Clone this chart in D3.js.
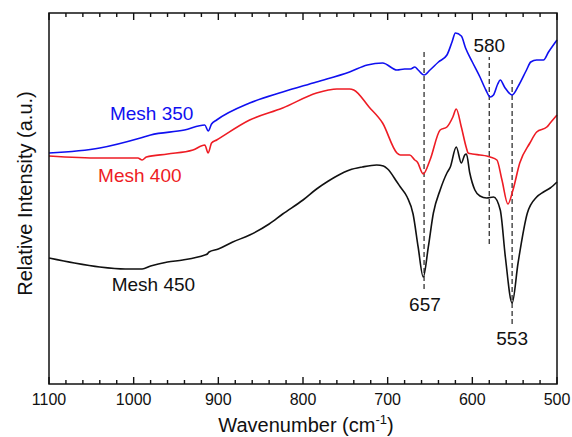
<!DOCTYPE html>
<html>
<head>
<meta charset="utf-8">
<script src="https://cdn.jsdelivr.net/npm/d3@7.9.0/dist/d3.min.js"></script>
<style>
  html, body { margin: 0; padding: 0; background: #fff; }
  svg { display: block; font-family: Arial, "Liberation Sans", sans-serif; }
</style>
</head>
<body>
<div id="chart"></div>
<script>
// spectra: [wavenumber (cm-1), relative intensity (a.u.)]
const mesh350 = [
  [1100, 231], [1040, 236], [992, 246], [980, 249], [940, 254], [916, 259], [912, 253],
  [908, 260], [902, 264], [863, 281], [824, 292], [784, 302], [745, 312], [724, 319],
  [706, 321], [689, 314], [680, 315], [673, 315], [668, 317], [664, 314], [657, 309],
  [650, 314], [640, 322], [630, 329], [624, 342], [620, 351], [613, 348], [608, 336],
  [600, 322], [591, 307], [584, 294], [579, 287], [575, 289], [570, 300], [567, 304],
  [562, 297], [553, 289], [545, 299], [536, 314], [531, 322], [524, 324], [516, 324],
  [510, 332], [500, 344]
];
const mesh400 = [
  [1100, 228], [1040, 226], [995, 226], [990, 224], [985, 227], [960, 230], [930, 234],
  [916, 239], [912, 231], [908, 241], [902, 244], [863, 264], [824, 276], [784, 291],
  [770, 294], [760, 295], [745, 295], [740, 294], [722, 277], [706, 261], [689, 231],
  [685, 229], [674, 229], [668, 224], [665, 222], [658, 210], [650, 224], [638, 254],
  [630, 257], [623, 267], [619, 275], [613, 257], [607, 236], [605, 231], [600, 230],
  [591, 229], [583, 228], [579, 227], [571, 224], [565, 204], [558, 180], [552, 194],
  [544, 221], [532, 241], [524, 252], [512, 257], [508, 261], [500, 269]
];
const mesh450 = [
  [1100, 126], [1070, 121], [1040, 117], [1010, 115], [990, 115], [980, 118], [960, 122],
  [942, 124], [916, 129], [913, 130], [911, 132], [900, 135], [883, 142], [863, 149],
  [840, 160], [824, 170], [800, 184], [784, 195], [770, 203], [760, 208], [745, 214],
  [730, 217], [713, 219], [705, 218], [700, 215], [689, 202], [685, 197], [677, 187],
  [670, 170], [664, 137], [658, 107], [652, 137], [646, 171], [638, 194], [630, 211],
  [626, 217], [619, 237], [613, 221], [609, 229], [607, 230], [603, 211], [597, 194],
  [591, 188], [583, 186], [575, 187], [567, 174], [561, 127], [553, 81], [546, 121],
  [535, 171], [524, 187], [516, 192], [508, 196], [500, 202]
];

const seriesNames = ["Mesh 350", "Mesh 400", "Mesh 450"];
const seriesColors = ["#1010f0", "#ee1c24", "#111111"];
// label anchors: [wavenumber, intensity]
const seriesLabelPos = [[1028, 264], [1042, 202], [1026, 93]];

// marked bands: wavenumber, dashed line extent, label position
const peaks = [657, 580, 553];
const peakLineExtent = [[95, 332], [140, 327], [60, 304]];
const peakLabelPos = [[656, 73], [580, 332], [553, 39]];

const xDomain = [1100, 500];
const yDomain = [0, 371];
const majorTicks = [1100, 1000, 900, 800, 700, 600, 500];
const allTicks = d3.range(500, 1101, 20);

const width = 572;
const height = 437;
const margin = { top: 13, right: 15, bottom: 53, left: 49 };

const usableArea = {
  top: margin.top,
  right: width - margin.right,
  bottom: height - margin.bottom,
  left: margin.left,
};

const svg = d3.select("#chart")
  .append("svg")
  .attr("width", width)
  .attr("height", height);

const xScale = d3.scaleLinear()
  .domain(xDomain)
  .range([usableArea.left, usableArea.right]);

const yScale = d3.scaleLinear()
  .domain(yDomain)
  .range([usableArea.bottom, usableArea.top]);

// dashed band markers
peaks.forEach((p, i) => {
  svg.append("line")
    .attr("x1", xScale(p)).attr("x2", xScale(p))
    .attr("y1", yScale(peakLineExtent[i][0]))
    .attr("y2", yScale(peakLineExtent[i][1]))
    .attr("stroke", "#333")
    .attr("stroke-width", 1.3)
    .attr("stroke-dasharray", "5,3");
  svg.append("text")
    .attr("x", xScale(peakLabelPos[i][0]))
    .attr("y", yScale(peakLabelPos[i][1]))
    .attr("text-anchor", "middle")
    .attr("font-size", 19)
    .attr("fill", "#111")
    .text(p);
});

// spectra
const line = d3.line()
  .x(d => xScale(d[0]))
  .y(d => yScale(d[1]))
  .curve(d3.curveMonotoneX);

[mesh350, mesh400, mesh450].forEach((data, i) => {
  svg.append("path")
    .datum(data)
    .attr("fill", "none")
    .attr("stroke", seriesColors[i])
    .attr("stroke-width", 1.6)
    .attr("stroke-linejoin", "round")
    .attr("d", line);

  svg.append("text")
    .attr("x", xScale(seriesLabelPos[i][0]))
    .attr("y", yScale(seriesLabelPos[i][1]))
    .attr("font-size", 19)
    .attr("fill", seriesColors[i])
    .text(seriesNames[i]);
});

// frame
svg.append("rect")
  .attr("x", usableArea.left)
  .attr("y", usableArea.top)
  .attr("width", usableArea.right - usableArea.left)
  .attr("height", usableArea.bottom - usableArea.top)
  .attr("fill", "none")
  .attr("stroke", "#111")
  .attr("stroke-width", 1.5);

// inward ticks on top and bottom edges (major 7px, minor 4px)
allTicks.forEach(v => {
  const len = v % 100 === 0 ? 7 : 4;
  svg.append("line")
    .attr("x1", xScale(v)).attr("x2", xScale(v))
    .attr("y1", usableArea.bottom).attr("y2", usableArea.bottom - len)
    .attr("stroke", "#111").attr("stroke-width", 1.4);
  svg.append("line")
    .attr("x1", xScale(v)).attr("x2", xScale(v))
    .attr("y1", usableArea.top).attr("y2", usableArea.top + len)
    .attr("stroke", "#111").attr("stroke-width", 1.4);
});

// tick labels
svg.append("g")
  .selectAll("text")
  .data(majorTicks)
  .join("text")
  .attr("x", d => xScale(d))
  .attr("y", usableArea.bottom + 21)
  .attr("text-anchor", "middle")
  .attr("font-size", 16)
  .attr("fill", "#111")
  .text(d => d);

// axis titles
const xTitle = svg.append("text")
  .attr("x", (usableArea.left + usableArea.right) / 2 + 3)
  .attr("y", 432)
  .attr("text-anchor", "middle")
  .attr("font-size", 20)
  .attr("fill", "#111");
xTitle.append("tspan").text("Wavenumber (cm");
xTitle.append("tspan").attr("font-size", 13).attr("dy", -8).text("-1");
xTitle.append("tspan").attr("dy", 8).text(")");

svg.append("text")
  .attr("transform", `translate(32,${(usableArea.top + usableArea.bottom) / 2 - 5}) rotate(-90)`)
  .attr("text-anchor", "middle")
  .attr("font-size", 20)
  .attr("fill", "#111")
  .text("Relative Intensity (a.u.)");
</script>
</body>
</html>
